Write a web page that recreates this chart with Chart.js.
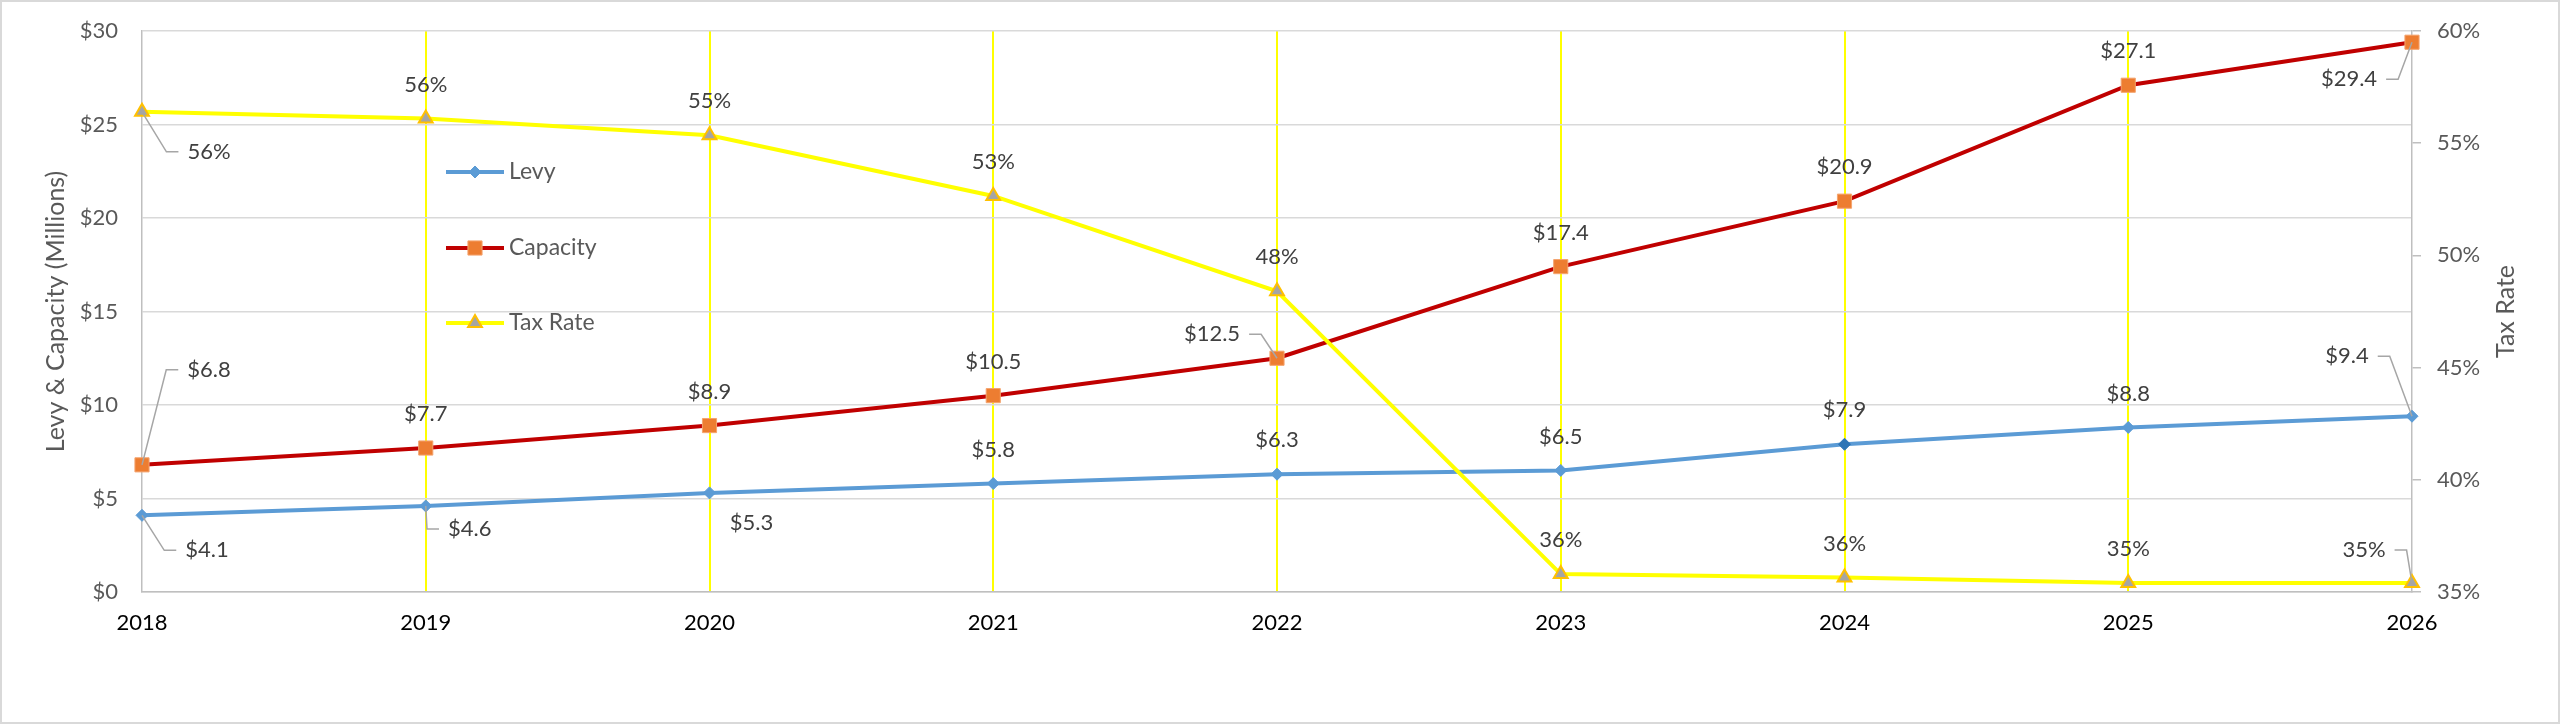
<!DOCTYPE html>
<html>
<head>
<meta charset="utf-8">
<title>Levy, Capacity and Tax Rate</title>
<script src="https://cdn.jsdelivr.net/npm/chart.js@4.4.1/dist/chart.umd.min.js"></script>
<style>
  html, body { margin: 0; padding: 0; background: #fff; }
  #wrap { width: 2560px; height: 724px; position: relative; }
</style>
</head>
<body>
<div id="wrap"><canvas id="taxChart"></canvas></div>
<script>
const years = ['2018', '2019', '2020', '2021', '2022', '2023', '2024', '2025', '2026'];
const levy = [4.1, 4.6, 5.3, 5.8, 6.3, 6.5, 7.9, 8.8, 9.4];
const capacity = [6.8, 7.7, 8.9, 10.5, 12.5, 17.4, 20.9, 27.1, 29.4];
const taxRate = [56.4, 56.1, 55.35, 52.65, 48.4, 35.8, 35.65, 35.4, 35.4];
const dollarTicks = [0, 5, 10, 15, 20, 25, 30];
const rateTicks = [35, 40, 45, 50, 55, 60];

// where a data label sits relative to its point: [dx, dy, leader line]
const labelSpots = {
  Levy: { 0: [65, 35, true], 1: [44, 23, true], 2: [42, 30, false], 8: [-65, -60, true] },
  Capacity: { 0: [67, -95, true], 4: [-65, -24, true], 8: [-63, 37, true] },
  'Tax Rate': { 0: [67, 40, true], 8: [-48, -33, true] },
};
const defaultSpot = [0, -34, false];

const FONT = 'Lato';
const NUM_SIZE = 22;
const LEGEND_SIZE = 23;
const TITLE_SIZE = 25;
const fmtMoney = v => '$' + v.toFixed(1);
const fmtRate = v => Math.round(v) + '%';

function drawMarker(ctx, style, x, y, r, fill, stroke, bw) {
  ctx.beginPath();
  if (style === 'rectRot') {
    ctx.moveTo(x, y - r);
    ctx.lineTo(x + r, y);
    ctx.lineTo(x, y + r);
    ctx.lineTo(x - r, y);
  } else if (style === 'rect') {
    const h = r * Math.SQRT1_2;
    ctx.rect(x - h, y - h, h * 2, h * 2);
  } else {
    ctx.moveTo(x, y - r);
    ctx.lineTo(x + r * 0.866, y + r * 0.5);
    ctx.lineTo(x - r * 0.866, y + r * 0.5);
  }
  ctx.closePath();
  ctx.fillStyle = fill;
  ctx.fill();
  ctx.lineWidth = bw;
  ctx.strokeStyle = stroke;
  ctx.stroke();
}

// keep the tick-label padding from pushing the plot area down
const noScalePadding = s => { s.paddingTop = 0; s.paddingBottom = 0; };

const chartDecor = {
  id: 'chartDecor',
  beforeDraw(chart) {
    const { ctx, width, height } = chart;
    ctx.save();
    ctx.fillStyle = '#ffffff';
    ctx.fillRect(0, 0, width, height);
    ctx.strokeStyle = '#d9d9d9';
    ctx.lineWidth = 2;
    ctx.strokeRect(1, 1, width - 2, height - 2);
    ctx.restore();
  },
  afterDatasetsDraw(chart) {
    const { ctx } = chart;
    ctx.save();
    ctx.font = NUM_SIZE + 'px ' + FONT;
    ctx.textAlign = 'center';
    ctx.textBaseline = 'middle';
    chart.data.datasets.forEach((ds, i) => {
      const meta = chart.getDatasetMeta(i);
      const fmt = ds.yAxisID === 'y1' ? fmtRate : fmtMoney;
      const spots = labelSpots[ds.label] || {};
      meta.data.forEach((pt, j) => {
        const [dx, dy, leader] = spots[j] || defaultSpot;
        const text = fmt(ds.data[j]);
        const cx = pt.x + dx;
        const cy = pt.y + dy;
        if (leader) {
          const w = ctx.measureText(text).width;
          const ex = dx > 0 ? cx - w / 2 - 9 : cx + w / 2 + 9;
          const elbow = dx > 0 ? ex - 12 : ex + 12;
          ctx.beginPath();
          ctx.moveTo(pt.x, pt.y);
          ctx.lineTo(elbow, cy);
          ctx.lineTo(ex, cy);
          ctx.strokeStyle = '#a6a6a6';
          ctx.lineWidth = 1.5;
          ctx.stroke();
        }
        ctx.fillStyle = '#404040';
        ctx.fillText(text, cx, cy);
      });
    });
    ctx.restore();
  },
  afterDraw(chart) {
    const { ctx, chartArea } = chart;
    const midY = (chartArea.top + chartArea.bottom) / 2;
    ctx.save();
    ctx.font = TITLE_SIZE + 'px ' + FONT;
    ctx.fillStyle = '#595959';
    ctx.textAlign = 'center';
    ctx.textBaseline = 'middle';

    ctx.save();
    ctx.translate(56, midY);
    ctx.rotate(-Math.PI / 2);
    ctx.fillText('Levy & Capacity (Millions)', 0, 0);
    ctx.restore();

    ctx.save();
    ctx.translate(2506, midY);
    ctx.rotate(-Math.PI / 2);
    ctx.fillText('Tax Rate', 0, 0);
    ctx.restore();

    // legend, stacked inside the plot
    ctx.font = LEGEND_SIZE + 'px ' + FONT;
    const legendX = 446;
    const legendRows = [172, 248, 323];
    chart.data.datasets.forEach((ds, i) => {
      const y = legendRows[i];
      ctx.beginPath();
      ctx.moveTo(legendX, y);
      ctx.lineTo(legendX + 58, y);
      ctx.strokeStyle = ds.borderColor;
      ctx.lineWidth = ds.borderWidth;
      ctx.stroke();
      drawMarker(ctx, ds.pointStyle, legendX + 29, y, ds.pointRadius,
        ds.legendFill, ds.legendStroke, ds.pointBorderWidth);
      ctx.fillStyle = '#595959';
      ctx.textAlign = 'left';
      ctx.fillText(ds.label, legendX + 63, y);
    });
    ctx.restore();
  }
};

const ctx = document.getElementById('taxChart').getContext('2d');

new Chart(ctx, {
  type: 'line',
  data: {
    labels: years,
    datasets: [
      {
        label: 'Levy',
        data: levy,
        yAxisID: 'y',
        borderColor: '#5b9bd5',
        borderWidth: 4,
        pointStyle: 'rectRot',
        pointRadius: 6,
        pointBorderWidth: 1,
        pointBackgroundColor: c => (c.dataIndex === 6 ? '#2e75b6' : '#5b9bd5'),
        pointBorderColor: c => (c.dataIndex === 6 ? '#2e75b6' : '#5b9bd5'),
        legendFill: '#5b9bd5',
        legendStroke: '#5b9bd5',
        order: 3,
      },
      {
        label: 'Capacity',
        data: capacity,
        yAxisID: 'y',
        borderColor: '#c00000',
        borderWidth: 4,
        pointStyle: 'rect',
        pointRadius: 10,
        pointBorderWidth: 1,
        pointBackgroundColor: '#ed7d31',
        pointBorderColor: '#f4a46e',
        legendFill: '#ed7d31',
        legendStroke: '#f4a46e',
        order: 2,
      },
      {
        label: 'Tax Rate',
        data: taxRate,
        yAxisID: 'y1',
        borderColor: '#ffff00',
        borderWidth: 4,
        pointStyle: 'triangle',
        pointRadius: 8,
        pointBorderWidth: 2,
        pointBackgroundColor: '#a5a5a5',
        pointBorderColor: '#ffc000',
        legendFill: '#a5a5a5',
        legendStroke: '#ffc000',
        order: 1,
      },
    ],
  },
  options: {
    responsive: true,
    maintainAspectRatio: false,
    animation: false,
    devicePixelRatio: 1,
    layout: { padding: { top: 31, left: 0, right: 0, bottom: 0 } },
    elements: { line: { tension: 0 } },
    plugins: {
      legend: { display: false },
      tooltip: { enabled: false },
    },
    scales: {
      x: {
        offset: false,
        afterFit: s => { s.height = 132; },
        grid: {
          color: c => (c.index === 0 || c.index === years.length - 1 ? 'rgba(0,0,0,0)' : '#ffff00'),
          lineWidth: 2,
          drawTicks: false,
        },
        border: { color: '#bfbfbf', width: 1.5 },
        ticks: {
          color: '#000000',
          padding: 18,
          maxRotation: 0,
          font: { family: FONT, size: NUM_SIZE },
        },
      },
      y: {
        position: 'left',
        min: dollarTicks[0],
        max: dollarTicks[dollarTicks.length - 1],
        afterBuildTicks: s => { s.ticks = dollarTicks.map(v => ({ value: v })); },
        afterFit: s => { s.width = 142; noScalePadding(s); },
        grid: { color: '#d9d9d9', lineWidth: 1.5, drawTicks: false },
        border: { color: '#bfbfbf', width: 1.5 },
        ticks: {
          color: '#595959',
          padding: 24,
          font: { family: FONT, size: NUM_SIZE },
          callback: v => '$' + v,
        },
      },
      y1: {
        position: 'right',
        min: rateTicks[0],
        max: rateTicks[rateTicks.length - 1],
        afterBuildTicks: s => { s.ticks = rateTicks.map(v => ({ value: v })); },
        afterFit: s => { s.width = 148; noScalePadding(s); },
        grid: {
          drawOnChartArea: false,
          drawTicks: true,
          tickLength: 9,
          color: '#bfbfbf',
          lineWidth: 1.5,
        },
        border: { color: '#bfbfbf', width: 1.5 },
        ticks: {
          color: '#595959',
          padding: 16,
          font: { family: FONT, size: NUM_SIZE },
          callback: v => v + '%',
        },
      },
    },
  },
  plugins: [chartDecor],
});
</script>
</body>
</html>
